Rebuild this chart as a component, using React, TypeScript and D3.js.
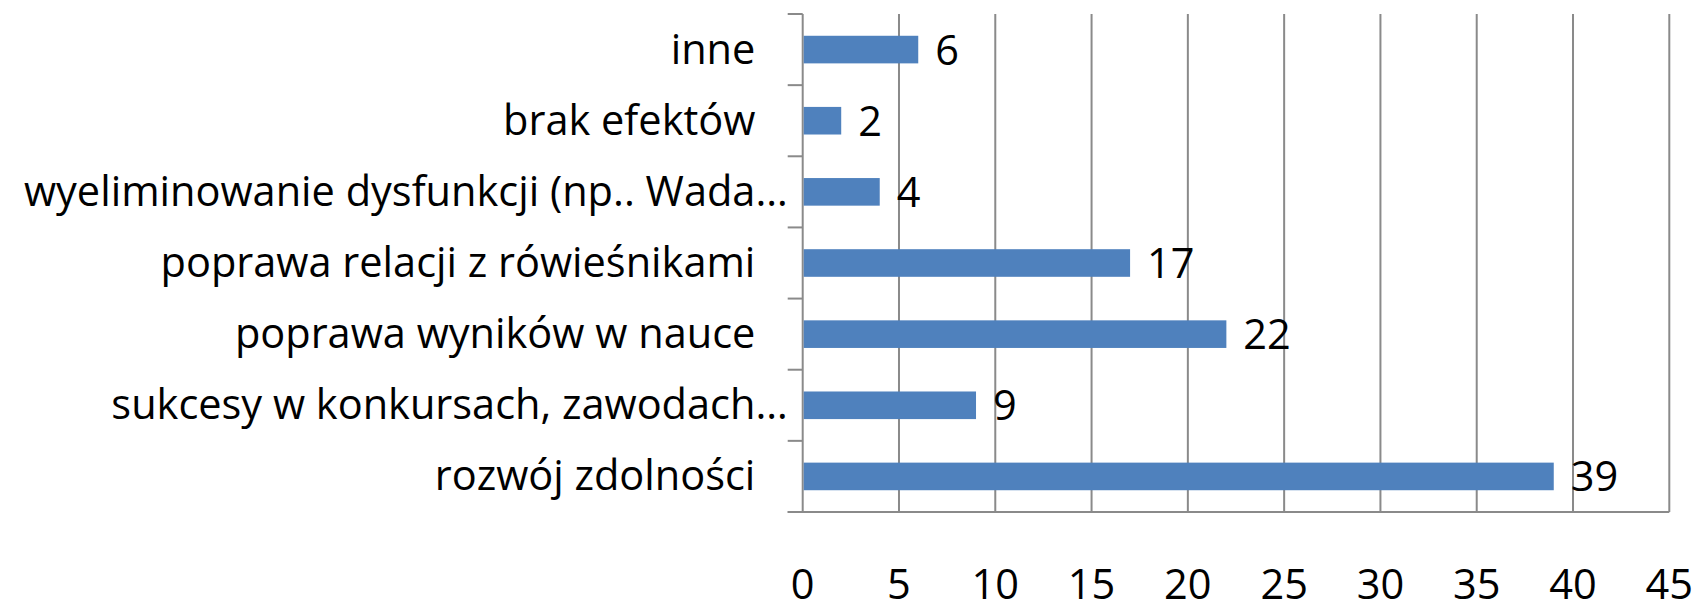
import React from "react";
import * as d3 from "d3";

const categories = [
  "inne   ",
  "brak efektów   ",
  "wyeliminowanie dysfunkcji (np.. Wada…",
  "poprawa relacji z rówieśnikami   ",
  "poprawa wyników w nauce   ",
  "sukcesy w konkursach, zawodach…",
  "rozwój zdolności   ",
];
const values = [6, 2, 4, 17, 22, 9, 39];
const xTicks = [0, 5, 10, 15, 20, 25, 30, 35, 40, 45];

const W = 1696;
const H = 605;
const M = { left: 802.7, right: 1669.3, top: 14, bottom: 512 };
const FONT = "'Open Sans', sans-serif";
const FS = 41.5;
const GRID = "#8a8a8a";
const BAR = "#4F81BD";

export default function App() {
  const x = d3.scaleLinear().domain([0, 45]).range([M.left, M.right]);
  const y = d3
    .scaleBand<number>()
    .domain(d3.range(categories.length))
    .range([M.top, M.bottom])
    .paddingInner(0.612)
    .paddingOuter(0.306);
  const step = (M.bottom - M.top) / categories.length;
  const bounds = d3.range(categories.length + 1).map((i) => M.top + i * step);

  return (
    <svg
      width={W}
      height={H}
      style={{ position: "absolute", left: 0, top: 0, display: "block", background: "#fff" }}
    >
      {xTicks.map((t) => (
        <line
          key={"g" + t}
          x1={x(t)}
          x2={x(t)}
          y1={M.top}
          y2={M.bottom}
          stroke={GRID}
          strokeWidth={2}
        />
      ))}
      <line x1={M.left - 15} x2={M.right} y1={M.bottom} y2={M.bottom} stroke={GRID} strokeWidth={2} />
      {bounds.map((b, i) => (
        <line key={"t" + i} x1={M.left - 15} x2={M.left} y1={b} y2={b} stroke={GRID} strokeWidth={2} />
      ))}
      {values.map((v, i) => (
        <rect
          key={"b" + i}
          x={x(0) + 1}
          y={y(i)!}
          width={x(v) - x(0) - 1}
          height={y.bandwidth()}
          fill={BAR}
        />
      ))}
      {values.map((v, i) => (
        <text
          key={"d" + i}
          x={x(v) + 17}
          y={y(i)! + y.bandwidth() / 2 + 15}
          fontFamily={FONT}
          fontSize={FS}
          fill="#000"
        >
          {v}
        </text>
      ))}
      {categories.map((c, i) => (
        <text
          key={"c" + i}
          x={M.left - 15}
          y={y(i)! + y.bandwidth() / 2 + 14}
          textAnchor="end"
          fontFamily={FONT}
          fontSize={FS}
          fill="#000"
          style={{ whiteSpace: "pre" }}
        >
          {c}
        </text>
      ))}
      {xTicks.map((t) => (
        <text
          key={"x" + t}
          x={x(t)}
          y={599}
          textAnchor="middle"
          fontFamily={FONT}
          fontSize={FS}
          fill="#000"
        >
          {t}
        </text>
      ))}
    </svg>
  );
}
